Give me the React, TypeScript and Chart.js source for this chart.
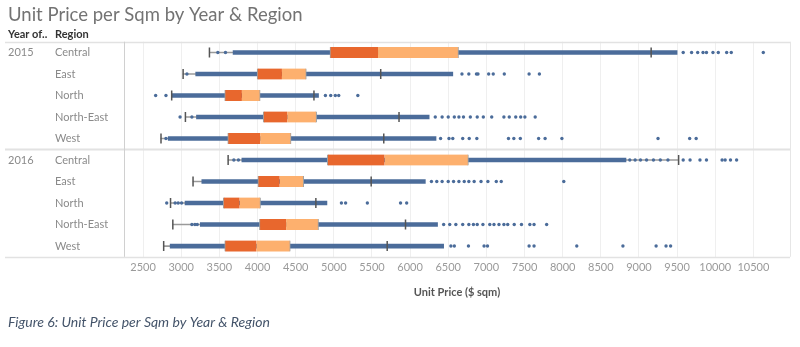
import { useEffect, useRef } from 'react';
import { Chart, registerables } from 'chart.js';

Chart.register(...registerables);

const title = 'Unit Price per Sqm by Year & Region';
const caption = 'Figure 6: Unit Price per Sqm by Year & Region';
const xTitle = 'Unit Price ($ sqm)';
const headerYear = 'Year of..';
const headerRegion = 'Region';

const years = ['2015', '2016'];
const regions = ['Central', 'East', 'North', 'North-East', 'West'];
const xTicks = [2500, 3000, 3500, 4000, 4500, 5000, 5500, 6000, 6500, 7000, 7500, 8000, 8500, 9000, 9500, 10000, 10500];

// rows: 2015 Central..West, 2016 Central..West
const whiskerLow = [3370, 3025, 2875, 3055, 2735, 3615, 3155, 2860, 2890, 2770];
const q1 = [4950, 3995, 3570, 4075, 3610, 4915, 4005, 3550, 4025, 3570];
const median = [5580, 4320, 3795, 4390, 4035, 5665, 4290, 3765, 4375, 3985];
const q3 = [6635, 4640, 4035, 4775, 4440, 6765, 4605, 4040, 4800, 4430];
const whiskerHigh = [9160, 5615, 4740, 5855, 5655, 9520, 5490, 4765, 5940, 5700];
const denseStart = [3680, 3190, 2880, 3200, 2830, 3795, 3270, 3050, 3250, 2855];
const denseEnd = [9500, 6560, 4800, 6250, 6340, 8830, 6200, 4910, 6360, 6440];
const sparsePoints = [
  [3480, 3580, 9580, 9690, 9770, 9840, 9885, 9970, 10040, 10150, 10210, 10630],
  [3075, 6680, 6770, 6870, 6890, 7030, 7090, 7235, 7560, 7695],
  [2665, 2800, 4890, 4960, 5020, 5065, 5315],
  [2985, 3140, 6330, 6420, 6500, 6580, 6640, 6700, 6790, 6880, 6960, 7070, 7230, 7300, 7385, 7450, 7505, 7640],
  [2800, 6400, 6510, 6560, 6690, 6775, 6875, 7290, 7360, 7445, 7685, 7770, 7990, 9250, 9665, 9750],
  [3690, 3750, 8880, 8950, 9020, 9100, 9190, 9280, 9380, 9580, 9670, 9800, 9885, 10090, 10130, 10200, 10280],
  [6280, 6350, 6420, 6500, 6570, 6640, 6710, 6770, 6840, 6930, 7020, 7130, 7195, 8015],
  [2810, 2920, 2960, 3005, 5100, 5155, 5440, 5875, 5955],
  [3140, 3180, 3210, 6440, 6520, 6600, 6690, 6770, 6830, 6880, 6955, 7045, 7100, 7165, 7230, 7280, 7365, 7460, 7570, 7625, 7790],
  [6535, 6580, 6765, 6970, 7015, 7560, 7625, 8185, 8790, 9225, 9355, 9415],
];

const FONT = 'Lato, "Open Sans", sans-serif';

export default function App() {
  const ref = useRef<HTMLCanvasElement>(null);

  useEffect(() => {
    const canvas = ref.current;
    if (!canvas) return;
    const rowKeys = years.flatMap((y) => regions.map((r) => `${y} ${r}`));
    const idx = rowKeys.map((_, i) => i);

    const decor = {
      id: 'decor',
      beforeDatasetsDraw(chart: any) {
        const { ctx, chartArea } = chart;
        const yS = chart.scales.y;
        const yY = chart.scales.yYear;
        const left = yY.left - 3;
        ctx.save();
        ctx.strokeStyle = '#e2e2e2';
        const mid = (yS.getPixelForValue(4) + yS.getPixelForValue(5)) / 2;
        [chartArea.top, mid, chartArea.bottom].forEach((yy: number, k: number) => {
          ctx.lineWidth = k === 1 ? 2 : 1.5;
          ctx.beginPath();
          ctx.moveTo(left, Math.round(yy) + 0.5);
          ctx.lineTo(chartArea.right, Math.round(yy) + 0.5);
          ctx.stroke();
        });
        ctx.lineWidth = 1;
        ctx.strokeStyle = '#d0d0d0';
        ctx.beginPath();
        ctx.moveTo(Math.round(chartArea.left) + 0.5, chartArea.top);
        ctx.lineTo(Math.round(chartArea.left) + 0.5, chartArea.bottom);
        ctx.stroke();
        ctx.strokeStyle = '#e6e6e6';
        ctx.beginPath();
        ctx.moveTo(Math.round(chartArea.right) + 0.5, chartArea.top);
        ctx.lineTo(Math.round(chartArea.right) + 0.5, chartArea.bottom);
        ctx.stroke();
        ctx.restore();
      },
      afterDraw(chart: any) {
        const { ctx, chartArea } = chart;
        const yS = chart.scales.y;
        const yY = chart.scales.yYear;
        ctx.save();
        ctx.fillStyle = '#333333';
        ctx.font = `bold 11px ${FONT}`;
        ctx.textBaseline = 'middle';
        ctx.textAlign = 'left';
        ctx.fillText(headerYear, yY.left, chartArea.top - 7);
        ctx.fillText(headerRegion, yS.left, chartArea.top - 7);
        ctx.restore();
      },
    };

    const chart = new Chart(canvas, {
      type: 'bar',
      data: {
        labels: rowKeys,
        datasets: [
          {
            type: 'scatter',
            label: 'caps',
            data: idx.flatMap((i) => [
              { x: whiskerLow[i], y: rowKeys[i] },
              { x: whiskerHigh[i], y: rowKeys[i] },
            ]),
            pointStyle: 'line',
            rotation: 90,
            pointRadius: 5,
            borderWidth: 1.5,
            borderColor: '#555555',
            backgroundColor: '#555555',
            yAxisID: 'y',
            xAxisID: 'x',
            order: 1,
          } as any,
          {
            type: 'bar',
            label: 'lower box',
            data: idx.map((i) => [q1[i], median[i]]),
            backgroundColor: '#e8672d',
            borderColor: '#a0a0a0',
            borderWidth: { left: 1, right: 0, top: 0, bottom: 0 },
            borderSkipped: false,
            barThickness: 11,
            grouped: false,
            yAxisID: 'y',
            xAxisID: 'x',
            order: 2,
          } as any,
          {
            type: 'bar',
            label: 'upper box',
            data: idx.map((i) => [median[i], q3[i]]),
            backgroundColor: '#fdb06e',
            borderColor: '#a0a0a0',
            borderWidth: { left: 0, right: 1, top: 0, bottom: 0 },
            borderSkipped: false,
            barThickness: 11,
            grouped: false,
            yAxisID: 'y',
            xAxisID: 'x',
            order: 2,
          } as any,
          {
            type: 'scatter',
            label: 'points',
            data: idx.flatMap((i) => sparsePoints[i].map((v) => ({ x: v, y: rowKeys[i] }))),
            pointRadius: 1.7,
            borderWidth: 0,
            backgroundColor: '#4b6c9a',
            yAxisID: 'y',
            xAxisID: 'x',
            order: 3,
          } as any,
          {
            type: 'bar',
            label: 'dense',
            data: idx.map((i) => [denseStart[i], denseEnd[i]]),
            backgroundColor: '#4b6c9a',
            barThickness: 4,
            grouped: false,
            yAxisID: 'y',
            xAxisID: 'x',
            order: 4,
          } as any,
          {
            type: 'bar',
            label: 'whisker',
            data: idx.map((i) => [whiskerLow[i], whiskerHigh[i]]),
            backgroundColor: '#9a9a9a',
            barThickness: 1,
            grouped: false,
            yAxisID: 'y',
            xAxisID: 'x',
            order: 5,
          } as any,
        ],
      },
      options: {
        indexAxis: 'y',
        responsive: false,
        animation: false,
        devicePixelRatio: 1,
        layout: { padding: { left: 8, right: 10, top: 0, bottom: 0 } },
        scales: {
          x: {
            type: 'linear',
            position: 'bottom',
            min: 2250,
            max: 10980,
            afterBuildTicks: (s: any) => {
              s.ticks = xTicks.map((v) => ({ value: v }));
            },
            grid: { color: '#efefef', drawTicks: false },
            border: { display: false },
            ticks: {
              padding: 4,
              color: '#9a9a9a',
              font: { family: FONT, size: 11 },
              maxRotation: 0,
              autoSkip: false,
              callback: (v: any) => String(v),
            },
            title: {
              display: true,
              text: xTitle,
              color: '#555555',
              font: { family: FONT, size: 11, weight: 'bold' },
              padding: { top: 8, bottom: 4 },
            },
          },
          y: {
            type: 'category',
            position: 'left',
            weight: 0,
            offset: true,
            grid: { display: false },
            border: { display: false },
            ticks: {
              autoSkip: false,
              crossAlign: 'far',
              color: '#8a8a8a',
              font: { family: FONT, size: 11 },
              callback: (_v: any, i: number) => regions[i % regions.length],
            },
            afterFit: (s: any) => {
              s.width = 69;
            },
          },
          yYear: {
            type: 'category',
            position: 'left',
            weight: 1,
            offset: true,
            grid: { display: false },
            border: { display: false },
            ticks: {
              autoSkip: false,
              crossAlign: 'far',
              color: '#8a8a8a',
              font: { family: FONT, size: 11 },
              callback: (_v: any, i: number) =>
                i % regions.length === 0 ? years[i / regions.length] : '',
            },
            afterFit: (s: any) => {
              s.width = 47;
            },
          },
        } as any,
        plugins: {
          legend: { display: false },
          tooltip: { enabled: false },
          title: {
            display: true,
            text: title,
            align: 'start',
            color: '#737373',
            font: { family: FONT, size: 18.5, weight: 'normal' },
            padding: { top: 4, bottom: 15.5 },
          },
          subtitle: {
            display: true,
            position: 'bottom',
            align: 'start',
            text: caption,
            color: '#44546a',
            font: { family: FONT, size: 14, style: 'italic', weight: 'normal' },
            padding: { top: 11, bottom: 16 },
          },
        },
      } as any,
      plugins: [decor],
    });
    return () => chart.destroy();
  }, []);

  return (
    <div style={{ position: 'fixed', left: 0, top: 0, width: 800, height: 347, background: '#ffffff' }}>
      <canvas ref={ref} width={800} height={347} style={{ width: 800, height: 347, display: 'block' }} />
    </div>
  );
}
